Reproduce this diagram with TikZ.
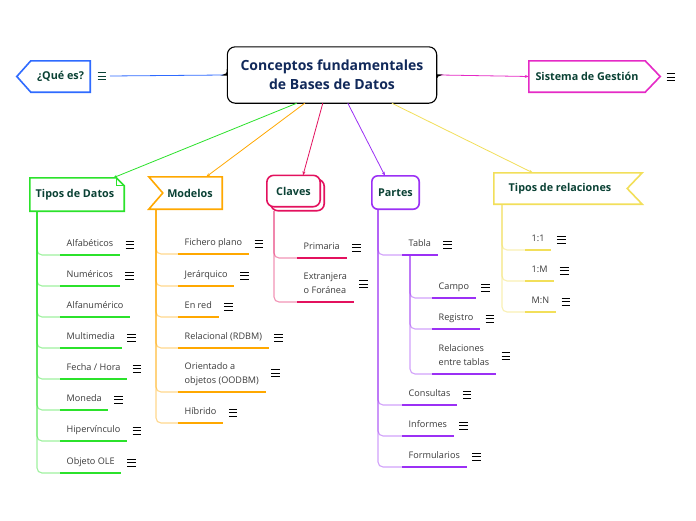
\documentclass[tikz,border=0pt]{standalone}
\usepackage{fontspec}
\setmainfont{Open Sans}
\usetikzlibrary{calc,arrows.meta,backgrounds}
\definecolor{cG}{HTML}{2BE22B}
\definecolor{cO}{HTML}{FFA800}
\definecolor{cC}{HTML}{E3115E}
\definecolor{cP}{HTML}{9B30F5}
\definecolor{cY}{HTML}{F2DF5A}
\definecolor{cB}{HTML}{2F6BFF}
\definecolor{cM}{HTML}{E52AC6}
\definecolor{hdrtxt}{HTML}{0B4235}
\definecolor{titletxt}{HTML}{11295A}
\definecolor{leaftxt}{HTML}{3A3A3A}
\begin{document}
\begin{tikzpicture}[x=1pt,y=-1pt,
  every node/.style={font=\fontsize{9.1}{14}\selectfont, text=leaftxt},
  leaf/.style={anchor=south west, inner xsep=6.5pt, inner ysep=0pt, text height=12pt, text depth=8pt},
  leaftwo/.style={anchor=south west, inner xsep=6.5pt, inner ysep=0pt, align=left, text depth=8pt},
  hdr/.style={font=\bfseries\fontsize{10.8}{13}\selectfont, text=hdrtxt, inner sep=0pt},
  hshape/.style={draw=#1, line width=1.6pt, fill=white},
  ul/.style={draw=#1, line width=2.3pt},
  br/.style={draw=#1, line width=1.1pt, draw opacity=0.45, rounded corners=5pt},
  mainconn/.style={draw=#1, line width=0.8pt, -{Stealth[length=4pt,width=3pt]}},
  menuicon/.pic={\draw[line width=0.9pt] (-4.3,-3.4) -- (4.3,-3.4) (-4.3,0) -- (4.3,0) (-4.3,3.4) -- (4.3,3.4);}
]
\useasboundingbox (0,0) rectangle (696,520);

% ---------- main and top nodes ----------
\node[font=\bfseries\fontsize{14}{19}\selectfont, text=titletxt, align=center,
      minimum width=209pt, minimum height=56pt, inner sep=0pt] (mn) at (332,75)
      {Conceptos fundamentales\\de Bases de Datos};
\node[hdr, minimum width=59pt, minimum height=31pt] (qe) at (60.5,76.5) {¿Qué es?};
\node[hdr, minimum width=116pt, minimum height=31pt] (sg) at (587,76.5) {Sistema de Gestión};
\coordinate (qc) at (110,76);
\pic[color=hdrtxt] at (102,76) {menuicon};
\pic[color=black] at (671,77) {menuicon};

% ---------- branch headers ----------
\node[hdr, minimum width=94pt, minimum height=33pt] (td) at (77,194.5) {\hspace*{-4pt}Tipos de Datos};
\node[hdr, minimum width=73pt, minimum height=32pt] (mo) at (185.5,193) {\hspace*{9pt}Modelos};
\node[hdr, minimum width=53pt, minimum height=31pt] (cl) at (293.5,191) {Claves};
\node[hdr, minimum width=47pt, minimum height=33pt] (pa) at (395.5,192.5) {Partes};
\node[hdr, minimum width=148pt, minimum height=31pt] (tr) at (568,188.5) {Tipos de relaciones\hspace*{16pt}};

% ---------- shapes (background) ----------
\begin{pgfonlayer}{background}
\fill[white] (0,0) rectangle (696,520);
\draw[line width=1.1pt, black, fill=white]
  ($(mn.west)+(0,-6)$) [rounded corners=8pt] -- (mn.north west) -- (mn.north east) -- ($(mn.east)+(0,-6)$)
  [sharp corners] .. controls ($(mn.east)+(0,-1)$) and ($(mn.east)+(1,0)$) .. ($(mn.east)+(4,0)$)
  .. controls ($(mn.east)+(1,0)$) and ($(mn.east)+(0,1)$) .. ($(mn.east)+(0,6)$)
  [rounded corners=8pt] -- (mn.south east) -- (mn.south west) -- ($(mn.west)+(0,6)$)
  [sharp corners] .. controls ($(mn.west)+(0,1)$) and ($(mn.west)+(-1,0)$) .. ($(mn.west)+(-4,0)$)
  .. controls ($(mn.west)+(-1,0)$) and ($(mn.west)+(0,-1)$) .. ($(mn.west)+(0,-6)$);
\draw[hshape=cB] (qe.north west) -- (qe.north east) -- (qe.south east) -- (qe.south west) -- ($(qe.west)+(-14,0)$) -- cycle;
\draw[hshape=cM] (sg.north west) -- (sg.north east) -- ($(sg.east)+(15,0)$) -- (sg.south east) -- (sg.south west) -- cycle;
\draw[hshape=cG] (td.north west) -- ($(td.north east)+(-8,0)$) -- ($(td.north east)+(0,8)$) -- (td.south east) -- (td.south west) -- cycle;
\draw[cG, line width=1pt] ($(td.north east)+(-8,0)$) -- ($(td.north east)+(-8,8)$) -- ($(td.north east)+(0,8)$);
\draw[hshape=cO] (mo.north west) -- (mo.north east) -- (mo.south east) -- (mo.south west) -- ($(mo.west)+(14,0)$) -- cycle;
\draw[hshape=cC, rounded corners=7pt] ($(cl.north west)+(4,4)$) rectangle ($(cl.south east)+(4,4)$);
\draw[hshape=cC, rounded corners=7pt] (cl.north west) rectangle (cl.south east);
\draw[hshape=cP, rounded corners=6pt] (pa.north west) rectangle (pa.south east);
\draw[hshape=cY] (tr.north west) -- (tr.north east) -- ($(tr.east)+(-15,0)$) -- (tr.south east) -- (tr.south west) -- cycle;
\end{pgfonlayer}

% ---------- main connectors ----------
\draw[draw=cB, line width=0.8pt] ($(mn.west)+(-4,0)$) -- (qc);
\draw[mainconn=cM] ($(mn.east)+(4,0)$) -- (sg.west);
\draw[mainconn=cG] ($(mn.south west)+(69.5,0)$) -- ($(td.north east)+(-11,0)$);
\draw[mainconn=cO] ($(mn.south west)+(77.5,0)$) -- ($(mo.north east)+(-16,0)$);
\draw[mainconn=cC] ($(mn.south west)+(95.5,0)$) -- ($(cl.north)+(9.5,0)$);
\draw[mainconn=cP] ($(mn.south west)+(120.5,0)$) -- ($(pa.north)+(-10.5,0)$);
\draw[mainconn=cY] ($(mn.south west)+(164.5,0)$) -- ($(tr.north west)+(39,0)$);

% ---------- Tipos de Datos ----------
\coordinate (tdv) at (37,211);
\node[leaf] (a1) at (60,255) {Alfabéticos};
\node[leaf] (a2) at (60,286) {Numéricos};
\node[leaf] (a3) at (60,317) {Alfanumérico};
\node[leaf] (a4) at (60,348) {Multimedia};
\node[leaf] (a5) at (60,379) {Fecha / Hora};
\node[leaf] (a6) at (60,410) {Moneda};
\node[leaf] (a7) at (60,441) {Hipervínculo};
\node[leaf] (a8) at (60,473) {Objeto OLE};
\foreach \n in {a1,a2,a3,a4,a5,a6,a7,a8}{
  \draw[br=cG] (tdv) |- (\n.south west);
  \draw[ul=cG] (\n.south west) -- (\n.south east);
}
\foreach \n in {a1,a2,a4,a5,a6,a7,a8}{ \pic at ($(\n.east)+(10,0)$) {menuicon}; }

% ---------- Modelos ----------
\coordinate (mov) at (156,209);
\node[leaf] (m1) at (178,254) {Fichero plano};
\node[leaf] (m2) at (178,286) {Jerárquico};
\node[leaf] (m3) at (178,317) {En red};
\node[leaf] (m4) at (178,348) {Relacional (RDBM)};
\node[leaftwo] (m5) at (178,392) {Orientado a\\objetos (OODBM)};
\node[leaf] (m6) at (178,423) {Híbrido};
\foreach \n in {m1,m2,m3,m4,m5,m6}{
  \draw[br=cO] (mov) |- (\n.south west);
  \draw[ul=cO] (\n.south west) -- (\n.south east);
}
\foreach \n in {m1,m2,m3,m4,m6}{ \pic at ($(\n.east)+(10,0)$) {menuicon}; }
\pic at ($(m5.south east)+(10,-19)$) {menuicon};

% ---------- Claves ----------
\coordinate (clv) at (274,211);
\node[leaf] (c1) at (297,258) {Primaria};
\node[leaftwo] (c2) at (297,302) {Extranjera\\o Foránea};
\foreach \n in {c1,c2}{
  \draw[br=cC] (clv) |- (\n.south west);
  \draw[ul=cC] (\n.south west) -- (\n.south east);
}
\pic at ($(c1.east)+(10,0)$) {menuicon};
\pic at ($(c2.south east)+(10,-18)$) {menuicon};

% ---------- Partes ----------
\coordinate (pav) at (378,210);
\node[leaf] (p1) at (402,255) {Tabla};
\node[leaf] (p2) at (402,405) {Consultas};
\node[leaf] (p3) at (402,436) {Informes};
\node[leaf] (p4) at (402,467) {Formularios};
\foreach \n in {p1,p2,p3,p4}{
  \draw[br=cP] (pav) |- (\n.south west);
  \draw[ul=cP] (\n.south west) -- (\n.south east);
  \pic at ($(\n.east)+(10,0)$) {menuicon};
}
\coordinate (tav) at ($(p1.south west)+(8,0)$);
\node[leaf] (q1) at (432,298) {Campo};
\node[leaf] (q2) at (432,329) {Registro};
\node[leaftwo] (q3) at (432,374) {Relaciones\\entre tablas};
\foreach \n in {q1,q2,q3}{
  \draw[br=cP] (tav) |- (\n.south west);
  \draw[ul=cP] (\n.south west) -- (\n.south east);
}
\pic at ($(q1.east)+(10,0)$) {menuicon};
\pic at ($(q2.east)+(10,0)$) {menuicon};
\pic at ($(q3.south east)+(10,-18)$) {menuicon};

% ---------- Tipos de relaciones ----------
\coordinate (trv) at (502,204);
\node[leaf] (r1) at (525,250) {1:1};
\node[leaf] (r2) at (525,281) {1:M};
\node[leaf] (r3) at (525,312) {M:N};
\foreach \n in {r1,r2,r3}{
  \draw[br=cY] (trv) |- (\n.south west);
  \draw[ul=cY] (\n.south west) -- (\n.south east);
  \pic at ($(\n.east)+(10,0)$) {menuicon};
}
\end{tikzpicture}
\end{document}
